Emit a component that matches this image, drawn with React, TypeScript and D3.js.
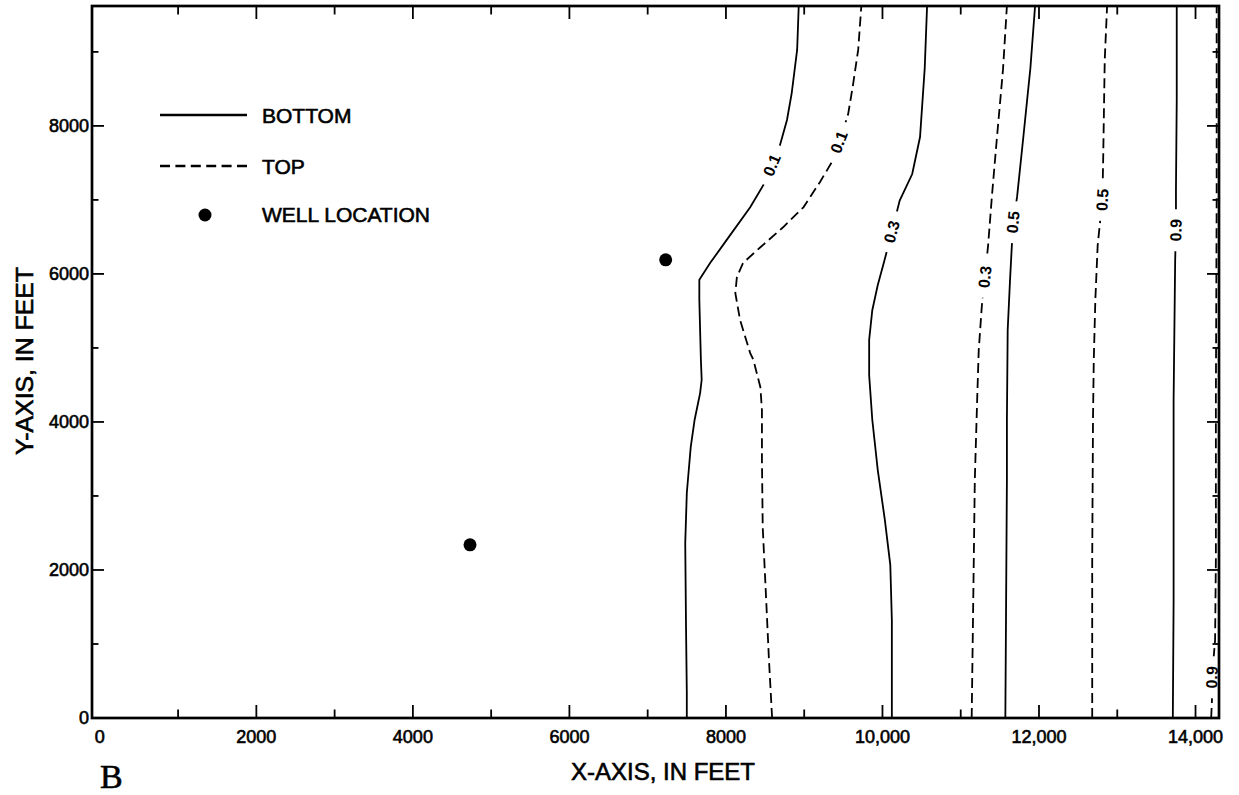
import React from "react";
import * as d3 from "d3";

type Pt = [number, number];

// ---- data (feet) ----
const xTickValues = d3.range(1000, 14001, 1000);
const xTickLabels = [0, 2000, 4000, 6000, 8000, 10000, 12000, 14000];
const yTickValues = d3.range(1000, 9001, 1000);
const yTickLabels = [0, 2000, 4000, 6000, 8000];

const wells: Pt[] = [
  [4730, 2340],
  [7230, 6190],
];

const bottom01: Pt[] = [
  [7500, 0], [7500, 340], [7490, 1230], [7480, 2360], [7500, 3040], [7550, 3660],
  [7600, 4030], [7670, 4390], [7690, 4570], [7680, 4840], [7670, 5240], [7660, 5650],
  [7660, 5920], [7800, 6150], [8010, 6460], [8310, 6900], [8500, 7240], [8690, 7740],
  [8780, 8080], [8840, 8440], [8910, 9030], [8930, 9620],
];
const top01: Pt[] = [
  [8590, 0], [8550, 780], [8510, 1690], [8470, 2580], [8460, 3490], [8460, 4160],
  [8440, 4470], [8350, 4840], [8310, 4930], [8180, 5380], [8120, 5740], [8140, 5960],
  [8220, 6150], [8440, 6360], [8730, 6630], [8990, 6900], [9200, 7240], [9370, 7540],
  [9560, 8150], [9620, 8530], [9690, 9030], [9730, 9620],
];
const bottom03: Pt[] = [
  [10120, 0], [10120, 1320], [10100, 2070], [10030, 2680], [9940, 3350], [9870, 4030],
  [9830, 4630], [9830, 5110], [9870, 5510], [9940, 5850], [10020, 6160], [10120, 6570],
  [10220, 6990], [10380, 7350], [10480, 7850], [10540, 8780], [10570, 9620],
];
const top03: Pt[] = [
  [11140, 0], [11160, 1590], [11180, 3220], [11210, 4300], [11230, 4970], [11270, 5570],
  [11310, 5960], [11350, 6390], [11400, 7070], [11460, 7810], [11540, 8760], [11590, 9620],
];
const bottom05: Pt[] = [
  [11570, 0], [11580, 1590], [11590, 3220], [11590, 4030], [11600, 5240], [11630, 5920],
  [11650, 6320], [11670, 6700], [11720, 7040], [11800, 7850], [11890, 8780], [11950, 9620],
];
const top05: Pt[] = [
  [12680, 0], [12680, 2130], [12690, 4030], [12700, 4840], [12720, 5650], [12750, 6390],
  [12810, 7000], [12820, 7540], [12840, 8890], [12870, 9620],
];
const bottom09: Pt[] = [
  [13710, 0], [13720, 1590], [13720, 4300], [13740, 6190], [13750, 6590], [13750, 7130],
  [13760, 8350], [13760, 9620],
];
const top09: Pt[] = [
  [14200, 0], [14210, 240], [14210, 550], [14250, 1050], [14260, 2130], [14260, 4300],
  [14270, 7000], [14270, 9620],
];

const contourNames = ["0.1", "0.1", "0.3", "0.3", "0.5", "0.5", "0.9", "0.9"];
const contourKinds = ["bottom", "top", "bottom", "top", "bottom", "top", "bottom", "top"];
const contourPoints = [bottom01, top01, bottom03, top03, bottom05, top05, bottom09, top09];
const labelYs = [7470, 7780, 6570, 5960, 6700, 7000, 6590, 550];

// ---- layout ----
const W = 1239;
const H = 795;
const xScale = d3.scaleLinear().domain([-100, 14300]).range([92, 1219]);
const yScale = d3.scaleLinear().domain([0, 9620]).range([718, 6]);
const line = d3
  .line<Pt>()
  .x((d) => xScale(d[0]))
  .y((d) => yScale(d[1]));

const SANS = "'Liberation Sans', Arial, Helvetica, sans-serif";
const SERIF = "'Liberation Serif', 'Times New Roman', serif";

function xAt(pts: Pt[], y: number): number {
  for (let i = 0; i < pts.length - 1; i++) {
    const [x0, y0] = pts[i];
    const [x1, y1] = pts[i + 1];
    if (y >= y0 && y <= y1) {
      const t = y1 === y0 ? 0 : (y - y0) / (y1 - y0);
      return x0 + t * (x1 - x0);
    }
  }
  return pts[pts.length - 1][0];
}

function fmtX(v: number): string {
  return v >= 10000 ? d3.format(",")(v) : String(v);
}

export default function App() {
  const x0 = xScale.range()[0];
  const x1 = xScale.range()[1];
  const yTop = yScale.range()[1];
  const yBot = yScale.range()[0];

  const labels = contourPoints.map((pts, i) => {
    const ly = labelYs[i];
    const lx = xAt(pts, ly);
    const yA = Math.max(0, ly - 450);
    const yB = Math.min(9620, ly + 450);
    const pA = [xScale(xAt(pts, yA)), yScale(yA)];
    const pB = [xScale(xAt(pts, yB)), yScale(yB)];
    const ang = (Math.atan2(pB[1] - pA[1], pB[0] - pA[0]) * 180) / Math.PI;
    return { x: xScale(lx), y: yScale(ly), ang, text: contourNames[i] };
  });

  const textStyle = { stroke: "#000", strokeWidth: 0.6 } as const;

  return (
    <svg
      width={W}
      height={H}
      viewBox={`0 0 ${W} ${H}`}
      style={{ position: "absolute", left: 0, top: 0, background: "#fff" }}
    >
      <rect x={0} y={0} width={W} height={H} fill="#fff" />

      {/* contour lines */}
      <g fill="none" stroke="#000" strokeWidth={1.8}>
        {contourPoints.map((pts, i) => (
          <path
            key={i}
            d={line(pts) || ""}
            strokeDasharray={contourKinds[i] === "top" ? "10,5" : undefined}
          />
        ))}
      </g>

      {/* contour labels */}
      {labels.map((l, i) => (
        <g key={i} transform={`translate(${l.x},${l.y}) rotate(${l.ang})`}>
          <rect x={-21} y={-5} width={42} height={10} fill="#fff" />
          <text
            textAnchor="middle"
            dominantBaseline="central"
            fontFamily={SANS}
            fontWeight="bold"
            fontSize={16}
            fill="#000"
          >
            {l.text}
          </text>
        </g>
      ))}

      {/* wells */}
      {wells.map((w, i) => (
        <circle key={i} cx={xScale(w[0])} cy={yScale(w[1])} r={6.5} fill="#000" />
      ))}

      {/* frame */}
      <rect
        x={x0}
        y={yTop}
        width={x1 - x0}
        height={yBot - yTop}
        fill="none"
        stroke="#000"
        strokeWidth={2.7}
      />

      {/* x ticks */}
      {xTickValues.map((v) => {
        const major = v % 2000 === 0;
        const len = major ? 13 : 8.5;
        const px = xScale(v);
        return (
          <g key={"xt" + v} stroke="#000" strokeWidth={1.8}>
            <line x1={px} x2={px} y1={yBot} y2={yBot - len} />
            <line x1={px} x2={px} y1={yTop} y2={yTop + len} />
          </g>
        );
      })}
      {/* y ticks */}
      {yTickValues.map((v) => {
        const major = v % 2000 === 0;
        const len = major ? 12 : 6.5;
        const py = yScale(v);
        return (
          <g key={"yt" + v} stroke="#000" strokeWidth={1.8}>
            <line x1={x0} x2={x0 + len} y1={py} y2={py} />
            <line x1={x1} x2={x1 - len} y1={py} y2={py} />
          </g>
        );
      })}

      {/* tick labels */}
      {xTickLabels.map((v) => (
        <text
          key={"xl" + v}
          x={xScale(v)}
          y={743}
          textAnchor="middle"
          fontFamily={SANS}
          fontSize={18}
          fill="#000"
          {...textStyle}
        >
          {fmtX(v)}
        </text>
      ))}
      {yTickLabels.map((v) => (
        <text
          key={"yl" + v}
          x={89}
          y={yScale(v)}
          textAnchor="end"
          dominantBaseline="central"
          fontFamily={SANS}
          fontSize={18}
          fill="#000"
          {...textStyle}
        >
          {v}
        </text>
      ))}

      {/* axis titles */}
      <text
        x={663}
        y={780}
        textAnchor="middle"
        fontFamily={SANS}
        fontSize={24}
        textLength={184}
        lengthAdjust="spacingAndGlyphs"
        fill="#000"
        {...textStyle}
      >
        X-AXIS, IN FEET
      </text>
      <text
        transform="translate(33,361) rotate(-90)"
        textAnchor="middle"
        fontFamily={SANS}
        fontSize={24}
        textLength={188}
        lengthAdjust="spacingAndGlyphs"
        fill="#000"
        {...textStyle}
      >
        Y-AXIS, IN FEET
      </text>

      {/* panel letter */}
      <text x={100} y={788} fontFamily={SERIF} fontSize={34} fill="#000" {...textStyle}>
        B
      </text>

      {/* legend */}
      <line x1={160} x2={247} y1={115} y2={115} stroke="#000" strokeWidth={2.5} />
      <text x={262} y={123} fontFamily={SANS} fontSize={21} fill="#000" {...textStyle}>
        BOTTOM
      </text>
      <line
        x1={160}
        x2={247}
        y1={166}
        y2={166}
        stroke="#000"
        strokeWidth={2.5}
        strokeDasharray="10,5.4"
      />
      <text x={262} y={174} fontFamily={SANS} fontSize={21} fill="#000" {...textStyle}>
        TOP
      </text>
      <circle cx={205} cy={215} r={6.5} fill="#000" />
      <text x={262} y={222} fontFamily={SANS} fontSize={21} fill="#000" {...textStyle}>
        WELL LOCATION
      </text>
    </svg>
  );
}
